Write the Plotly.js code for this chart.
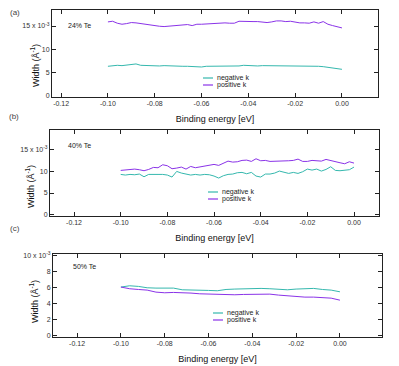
<!DOCTYPE html>
<html>
<head>
<meta charset="utf-8">
<script src="https://cdn.plot.ly/plotly-3.0.1.min.js"></script>
<style>html,body{margin:0;padding:0;background:#fff}#chart{width:399px;height:366px}</style>
</head>
<body>
<div id="chart"></div>
<script>
// ---------- data ----------
const energyFine = [-0.100,-0.098,-0.096,-0.094,-0.092,-0.090,-0.088,-0.086,-0.084,-0.082,-0.080,-0.078,-0.076,-0.074,-0.072,-0.070,-0.068,-0.066,-0.064,-0.062,-0.060,-0.058,-0.056,-0.054,-0.052,-0.050,-0.048,-0.046,-0.044,-0.042,-0.040,-0.038,-0.036,-0.034,-0.032,-0.030,-0.028,-0.026,-0.024,-0.022,-0.020,-0.018,-0.016,-0.014,-0.012,-0.010,-0.008,-0.006,-0.004,-0.002,0.000];
const energyCoarse = [-0.100,-0.096,-0.092,-0.088,-0.084,-0.080,-0.076,-0.072,-0.068,-0.064,-0.060,-0.056,-0.052,-0.048,-0.044,-0.040,-0.036,-0.032,-0.028,-0.024,-0.020,-0.016,-0.012,-0.008,-0.004,0.000];

// panel (a) 24% Te, width x 10^-3
const te24Negative = [6.37,6.51,6.58,6.51,6.58,6.65,6.87,6.58,6.51,6.51,6.44,6.44,6.51,6.44,6.44,6.44,6.37,6.37,6.29,6.29,6.22,6.37,6.37,6.44,6.44,6.37,6.29,6.37,6.44,6.58,6.51,6.51,6.44,6.51,6.51,6.44,6.44,6.44,6.44,6.44,6.44,6.44,6.37,6.44,6.37,6.37,6.29,6.15,6.01,5.87,5.72];
const te24Positive = [15.88,16.02,15.60,15.38,15.52,15.74,15.67,15.52,15.38,15.09,15.02,14.95,14.88,14.95,15.09,15.17,15.17,15.31,15.09,15.38,15.38,15.45,15.38,15.60,15.67,15.67,15.60,15.60,16.02,15.95,16.02,15.95,15.95,15.88,15.74,15.88,16.09,16.09,15.95,16.02,15.81,15.67,15.67,15.60,15.88,15.60,15.95,15.38,15.09,14.80,14.59];

// panel (b) 40% Te
const te40Negative = [9.30,9.15,9.30,9.22,9.38,8.76,9.30,9.38,9.30,9.30,9.15,8.69,9.99,9.61,9.30,9.15,9.30,9.15,9.30,9.22,8.92,8.46,9.00,9.30,9.38,9.69,9.76,9.45,9.76,8.92,8.69,9.38,9.38,9.61,10.07,9.76,9.53,9.76,9.53,9.92,10.53,10.30,10.53,10.07,10.45,11.07,10.22,10.15,10.22,10.38,10.99];
const te40Positive = [10.22,10.38,10.45,10.53,10.38,10.15,10.45,10.91,10.84,11.53,11.30,10.61,10.76,10.99,10.53,11.14,10.84,11.07,11.30,11.53,11.61,11.38,11.84,12.37,12.14,12.22,12.53,12.60,12.30,12.91,12.45,12.53,12.30,12.30,12.30,12.37,12.45,12.53,12.83,12.30,12.30,12.53,12.37,12.37,12.76,12.45,12.14,11.99,11.76,12.22,11.91];

// panel (c) 50% Te
const te50Negative = [6.05,6.21,6.13,5.96,5.92,5.92,5.92,5.71,5.71,5.67,5.63,5.59,5.75,5.80,5.84,5.80,5.88,5.84,5.80,5.71,5.80,5.88,5.88,5.75,5.67,5.46];
const te50Positive = [6.05,5.84,5.75,5.67,5.42,5.34,5.38,5.38,5.30,5.21,5.17,5.09,5.09,5.09,5.13,5.17,5.21,5.17,5.05,4.96,4.88,4.80,4.80,4.75,4.67,4.42];

const seriesNames = ['negative k', 'positive k'];
const panelLabels = ['(a)', '(b)', '(c)'];
const compositionLabels = ['24% Te', '40% Te', '50% Te'];
const xTickVals = [-0.12,-0.10,-0.08,-0.06,-0.04,-0.02,0.00];
const xTickText = ['-0.12','-0.10','-0.08','-0.06','-0.04','-0.02','0.00'];
const yTickValsAB = [0,5,10,15];
const yTickTextAB = ['0','5','10','15 x 10<sup>-3</sup>'];
const yTickValsC = [0,2,4,6,8,10];
const yTickTextC = ['0','2','4','6','8','10 x 10<sup>-3</sup>'];

// ---------- styling ----------
const W = 399, H = 366;
const FONT = 'Liberation Sans, Arial, Helvetica, sans-serif';
const TEAL = '#35b8ae';
const PURPLE = '#8a33e8';
const px = v => v / W;
const py = v => 1 - v / H;

function line(x, y, name, color, xa, ya) {
  return {x: x, y: y, name: name, type: 'scatter', mode: 'lines',
          line: {color: color, width: 1}, xaxis: xa, yaxis: ya, showlegend: false,
          hoverinfo: 'x+y+name'};
}

const data = [
  line(energyFine, te24Negative, seriesNames[0], TEAL, 'x', 'y'),
  line(energyFine, te24Positive, seriesNames[1], PURPLE, 'x', 'y'),
  line(energyFine, te40Negative, seriesNames[0], TEAL, 'x2', 'y2'),
  line(energyFine, te40Positive, seriesNames[1], PURPLE, 'x2', 'y2'),
  line(energyCoarse, te50Negative, seriesNames[0], TEAL, 'x3', 'y3'),
  line(energyCoarse, te50Positive, seriesNames[1], PURPLE, 'x3', 'y3')
];

function xAxis(domain, range, anchor) {
  return {domain: domain, range: range, anchor: anchor,
    tickvals: xTickVals, ticktext: xTickText,
    ticks: 'inside', ticklen: 4, tickwidth: 1, tickcolor: '#222',
    showline: true, linecolor: '#222', linewidth: 1, mirror: 'ticks',
    showgrid: false, zeroline: false,
    tickfont: {family: FONT, size: 7, color: '#333'},
    title: {text: 'Binding energy [eV]', font: {family: FONT, size: 9, color: '#111'}, standoff: 9}};
}
function yAxis(domain, range, anchor, vals, text) {
  return {domain: domain, range: range, anchor: anchor,
    tickvals: vals, ticktext: text,
    ticks: 'inside', ticklen: 4, tickwidth: 1, tickcolor: '#222',
    showline: true, linecolor: '#222', linewidth: 1, mirror: 'ticks',
    showgrid: false, zeroline: false,
    tickfont: {family: FONT, size: 7, color: '#333'}};
}

const annotations = [];
function txt(x, y, text, opts) {
  annotations.push(Object.assign({xref: 'paper', yref: 'paper', x: px(x), y: py(y), text: text,
    showarrow: false, xanchor: 'left', yanchor: 'middle',
    font: {family: FONT, size: 7, color: '#222'}}, opts || {}));
}
// panel letters
txt(8, 12, panelLabels[0], {font: {family: FONT, size: 8, color: '#444'}});
txt(7, 116, panelLabels[1], {font: {family: FONT, size: 8, color: '#444'}});
txt(8, 228, panelLabels[2], {font: {family: FONT, size: 8, color: '#444'}});
// compositions
txt(66, 26, compositionLabels[0]);
txt(66, 145, compositionLabels[1]);
txt(71, 266, compositionLabels[2]);
// y titles
const yTitle = 'Width (Å<sup>-1</sup>)';
[[35, 66], [30, 187], [34, 302]].forEach(p => {
  txt(p[0], p[1], yTitle, {textangle: -90, xanchor: 'center', yanchor: 'middle',
    font: {family: FONT, size: 9, color: '#111'}});
});
// legends (text + sample lines)
const legendPos = [[203, 78], [208, 192], [213, 313]];
const shapes = [];
legendPos.forEach(p => {
  txt(p[0] + 12, p[1], seriesNames[0]);
  txt(p[0] + 12, p[1] + 7, seriesNames[1]);
  shapes.push({type: 'line', xref: 'paper', yref: 'paper', x0: px(p[0]), x1: px(p[0] + 10),
    y0: py(p[1]), y1: py(p[1]), line: {color: TEAL, width: 1.2}});
  shapes.push({type: 'line', xref: 'paper', yref: 'paper', x0: px(p[0]), x1: px(p[0] + 10),
    y0: py(p[1] + 7), y1: py(p[1] + 7), line: {color: PURPLE, width: 1.2}});
});

const layout = {
  width: W, height: H, margin: {l: 0, r: 0, t: 0, b: 0},
  paper_bgcolor: '#fff', plot_bgcolor: '#fff', showlegend: false,
  font: {family: FONT},
  xaxis: xAxis([px(52), px(378)], [-0.1239, 0.0154], 'y'),
  yaxis: yAxis([py(97), py(10)], [-0.21, 18.43], 'x', yTickValsAB, yTickTextAB),
  xaxis2: xAxis([px(50), px(379)], [-0.1303, 0.0107], 'y2'),
  yaxis2: yAxis([py(216), py(130)], [-0.3, 19.55], 'x2', yTickValsAB, yTickTextAB),
  xaxis3: xAxis([px(53), px(382)], [-0.131, 0.0192], 'y3'),
  yaxis3: yAxis([py(337), py(254)], [-0.16, 10.16], 'x3', yTickValsC, yTickTextC),
  annotations: annotations,
  shapes: shapes
};

Plotly.newPlot('chart', data, layout, {staticPlot: true, displayModeBar: false});
</script>
</body>
</html>
